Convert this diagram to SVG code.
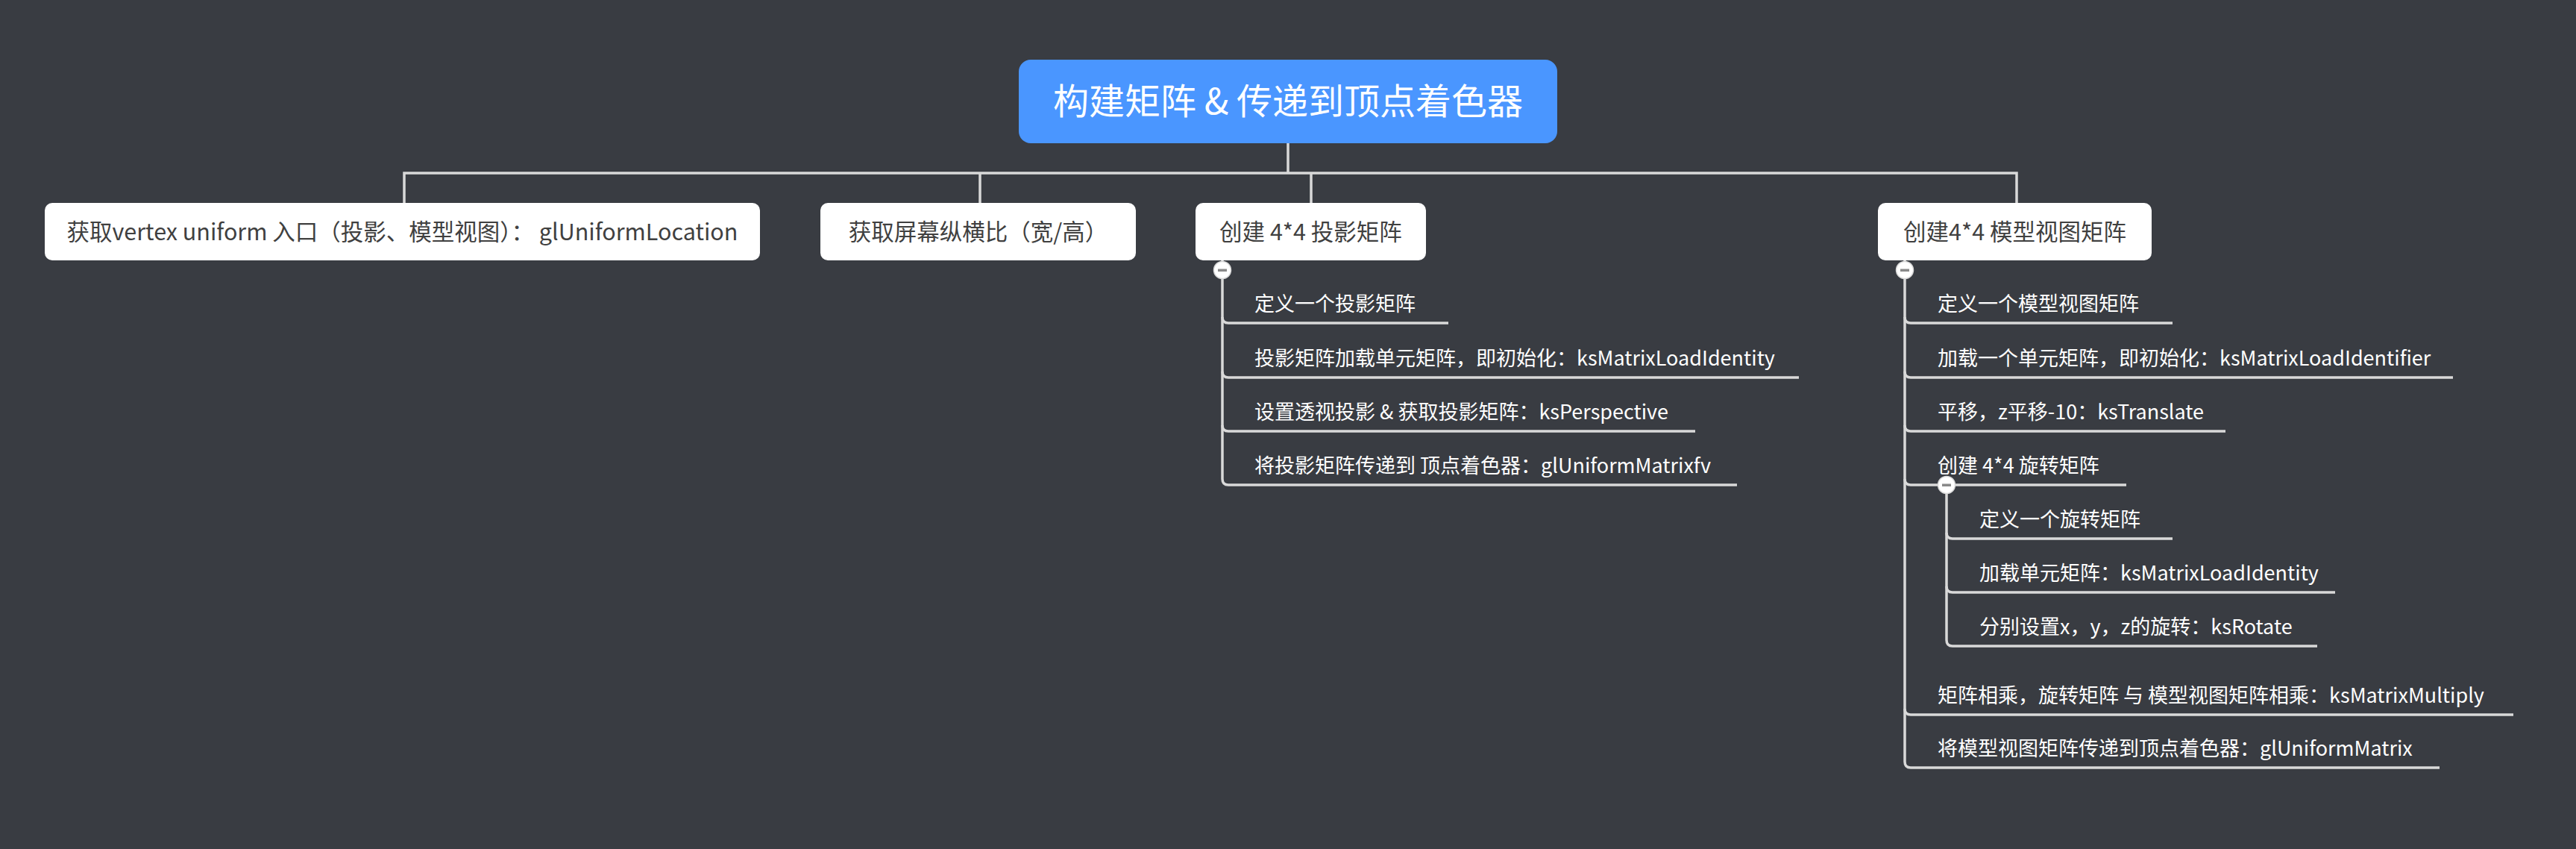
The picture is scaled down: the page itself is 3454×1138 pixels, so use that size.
<svg xmlns="http://www.w3.org/2000/svg" width="3454" height="1138" viewBox="0 0 3454 1138">
<style>
.bg{fill:#393c42}
.ln{fill:none;stroke:#d9d9d9;stroke-width:3.5;stroke-linecap:butt}
.box{fill:#ffffff}
.root{fill:#4a96ff}
.t{font-family:"Noto Sans CJK SC","Noto Sans",sans-serif}
.rt{font-size:48px;fill:#ffffff}
.bt{font-size:30.5px;fill:#404040}
.it{font-size:27px;fill:#ffffff}
.tg{fill:#ffffff;stroke:#d9d9d9;stroke-width:1.5}
.mn{fill:#8a8a8a}
</style>
<rect class="bg" x="0" y="0" width="3454" height="1138"/>
<g id="connectors">
<path class="ln" d="M1727,192 V232"/>
<path class="ln" d="M542,272 V232 H2704 V272"/>
<path class="ln" d="M1314,232 V272"/>
<path class="ln" d="M1758,232 V272"/>
<path class="ln" d="M1639,349 V642"/>
<path class="ln" d="M1639,425 Q1639,433 1647,433 H1942"/>
<path class="ln" d="M1639,498 Q1639,506 1647,506 H2412"/>
<path class="ln" d="M1639,570 Q1639,578 1647,578 H2273"/>
<path class="ln" d="M1639,642 Q1639,650 1647,650 H2329"/>
<path class="ln" d="M2554,349 V1021"/>
<path class="ln" d="M2554,425 Q2554,433 2562,433 H2913"/>
<path class="ln" d="M2554,498 Q2554,506 2562,506 H3289"/>
<path class="ln" d="M2554,570 Q2554,578 2562,578 H2984"/>
<path class="ln" d="M2554,642 Q2554,650 2562,650 H2851"/>
<path class="ln" d="M2554,950 Q2554,958 2562,958 H3370"/>
<path class="ln" d="M2554,1021 Q2554,1029 2562,1029 H3271"/>
<path class="ln" d="M2610,650 V858"/>
<path class="ln" d="M2610,714 Q2610,722 2618,722 H2913"/>
<path class="ln" d="M2610,786 Q2610,794 2618,794 H3131"/>
<path class="ln" d="M2610,858 Q2610,866 2618,866 H3107"/>
</g>
<g id="toggles">
<circle class="tg" cx="1639" cy="362" r="11.5"/><rect class="mn" x="1633" y="360.5" width="12" height="3.5"/>
<circle class="tg" cx="2554" cy="362" r="11.5"/><rect class="mn" x="2548" y="360.5" width="12" height="3.5"/>
<circle class="tg" cx="2610" cy="650" r="11.5"/><rect class="mn" x="2604" y="648.5" width="12" height="3.5"/>
</g>
<g id="root">
<rect class="root" x="1366" y="80" width="722" height="112" rx="16"/>
<text class="t rt" x="1727" y="153" text-anchor="middle">构建矩阵 &amp; 传递到顶点着色器</text>
</g>
<g id="n1">
<rect class="box" x="60" y="272" width="959" height="77" rx="10"/>
<text class="t bt" x="539.5" y="322" text-anchor="middle">获取vertex uniform 入口（投影、模型视图）： glUniformLocation</text>
</g>
<g id="n2">
<rect class="box" x="1100" y="272" width="423" height="77" rx="10"/>
<text class="t bt" x="1311.5" y="322" text-anchor="middle">获取屏幕纵横比（宽/高）</text>
</g>
<g id="n3">
<rect class="box" x="1603" y="272" width="309" height="77" rx="10"/>
<text class="t bt" x="1757.5" y="322" text-anchor="middle">创建 4*4 投影矩阵</text>
</g>
<g id="n4">
<rect class="box" x="2518" y="272" width="367" height="77" rx="10"/>
<text class="t bt" x="2701.5" y="322" text-anchor="middle">创建4*4 模型视图矩阵</text>
</g>
<g id="n3-1"><text class="t it" x="1682" y="417">定义一个投影矩阵</text></g>
<g id="n3-2"><text class="t it" x="1682" y="490">投影矩阵加载单元矩阵，即初始化：ksMatrixLoadIdentity</text></g>
<g id="n3-3"><text class="t it" x="1682" y="562">设置透视投影 &amp; 获取投影矩阵：ksPerspective</text></g>
<g id="n3-4"><text class="t it" x="1682" y="634">将投影矩阵传递到 顶点着色器：glUniformMatrixfv</text></g>
<g id="n4-1"><text class="t it" x="2598" y="417">定义一个模型视图矩阵</text></g>
<g id="n4-2"><text class="t it" x="2598" y="490">加载一个单元矩阵，即初始化：ksMatrixLoadIdentifier</text></g>
<g id="n4-3"><text class="t it" x="2598" y="562">平移，z平移-10：ksTranslate</text></g>
<g id="n4-4"><text class="t it" x="2598" y="634">创建 4*4 旋转矩阵</text></g>
<g id="n4-4-1"><text class="t it" x="2654" y="706">定义一个旋转矩阵</text></g>
<g id="n4-4-2"><text class="t it" x="2654" y="778">加载单元矩阵：ksMatrixLoadIdentity</text></g>
<g id="n4-4-3"><text class="t it" x="2654" y="850">分别设置x，y，z的旋转：ksRotate</text></g>
<g id="n4-5"><text class="t it" x="2598" y="942">矩阵相乘，旋转矩阵 与 模型视图矩阵相乘：ksMatrixMultiply</text></g>
<g id="n4-6"><text class="t it" x="2598" y="1013">将模型视图矩阵传递到顶点着色器：glUniformMatrix</text></g>
</svg>
